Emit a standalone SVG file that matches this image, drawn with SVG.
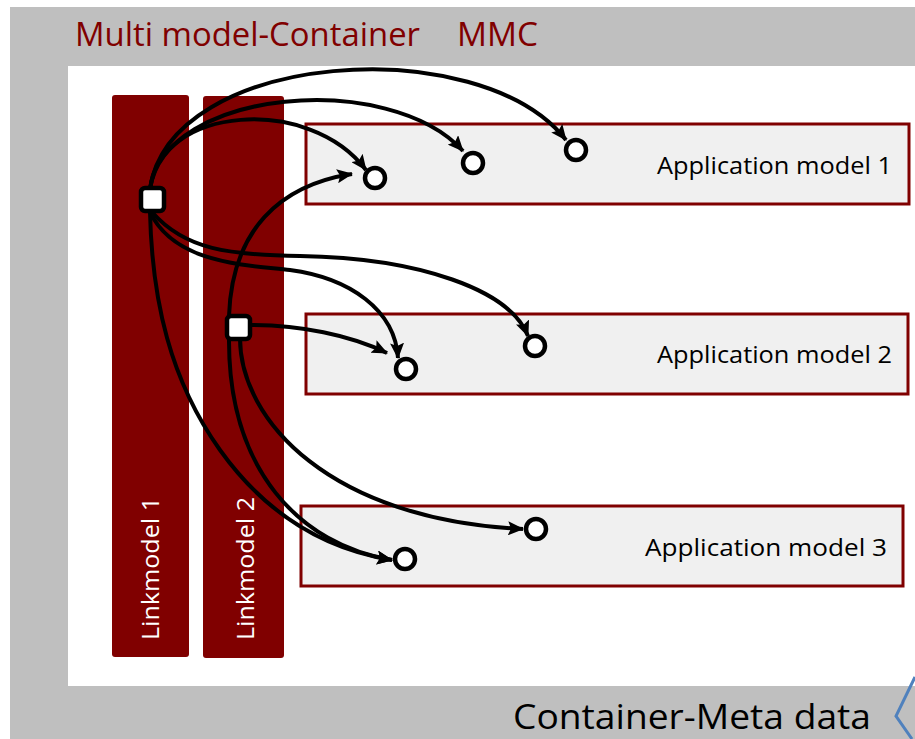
<svg xmlns="http://www.w3.org/2000/svg" width="915" height="739" viewBox="0 0 915 739">
<style>
.t{font-family:"Open Sans",Lato,"Liberation Sans",sans-serif}
.bar{fill:#800000}
.app{fill:#f0f0f0;stroke:#800000;stroke-width:3}
.apptxt{font-size:23px;fill:#000;text-anchor:end}
.lm{font-size:24px;fill:#fff}
.port{fill:#fff;stroke:#000;stroke-width:4.5}
.c{fill:none;stroke:#000;stroke-width:4;marker-end:url(#ah)}
</style>
<defs>
<marker id="ah" markerUnits="userSpaceOnUse" viewBox="0 0 16 14" refX="15" refY="7" markerWidth="16" markerHeight="14" orient="auto">
<path d="M0,0 L16,7 L0,14 L3,7 z" fill="#000"/>
</marker>
</defs>
<g id="background">
<rect x="10" y="7" width="905" height="732" fill="#bfbfbf"/>
<rect x="68" y="66" width="847" height="620" fill="#fff"/>
<text class="t" x="75" y="46" font-size="32" fill="#800000" textLength="345" lengthAdjust="spacingAndGlyphs">Multi model-Container</text>
<text class="t" x="457" y="46" font-size="32" fill="#800000" textLength="81" lengthAdjust="spacingAndGlyphs">MMC</text>
<text class="t" x="513" y="729" font-size="34" fill="#000" textLength="358" lengthAdjust="spacingAndGlyphs">Container-Meta data</text>
<polyline points="915,677 896,716 912,739" fill="none" stroke="#4f81bd" stroke-width="3"/>
</g>
<g id="linkmodel1">
<rect class="bar" x="112" y="95" width="77" height="562" rx="3"/>
<text class="t lm" transform="translate(159,640) rotate(-90)" textLength="143" lengthAdjust="spacingAndGlyphs">Linkmodel 1</text>
</g>
<g id="linkmodel2">
<rect class="bar" x="203" y="96" width="81" height="562" rx="3"/>
<text class="t lm" transform="translate(254,640) rotate(-90)" textLength="143" lengthAdjust="spacingAndGlyphs">Linkmodel 2</text>
</g>
<g id="app1">
<rect class="app" x="306" y="124" width="603" height="80"/>
<text class="t apptxt" x="892" y="174" textLength="235" lengthAdjust="spacingAndGlyphs">Application model 1</text>
</g>
<g id="app2">
<rect class="app" x="306" y="314" width="602" height="80"/>
<text class="t apptxt" x="892" y="363" textLength="235" lengthAdjust="spacingAndGlyphs">Application model 2</text>
</g>
<g id="app3">
<rect class="app" x="301" y="506" width="602" height="80"/>
<text class="t apptxt" x="887" y="556" textLength="242" lengthAdjust="spacingAndGlyphs">Application model  3</text>
</g>
<g id="connectors">
<path class="c" d="M150,189 C160,105 310,95 366,170"/>
<path class="c" d="M150,189 C165,88 390,70 463,151"/>
<path class="c" d="M150,189 C170,50 480,30 566,140"/>
<path class="c" d="M150,212 C175,265 250,265 290,270 C350,278 395,310 398,358"/>
<path class="c" d="M152,212 C185,250 230,255 300,256 C420,258 510,290 528,336"/>
<path class="c" d="M150,212 C152,300 170,380 220,450 C270,520 330,550 392,560"/>
<path class="c" d="M229,316 C232,230 280,185 352,174"/>
<path class="c" d="M250,325 C300,325 350,335 387,353"/>
<path class="c" d="M240,338 C240,420 330,520 523,529"/>
<path class="c" d="M229,338 C228,470 300,545 392,560"/>
</g>
<g id="ports">
<rect id="port-lm1" class="port" x="141" y="188" width="23" height="23" rx="4"/>
<rect id="port-lm2" class="port" x="227" y="316" width="23" height="23" rx="4"/>
<circle id="p1a" class="port" cx="375" cy="178" r="10"/>
<circle id="p1b" class="port" cx="473" cy="163" r="10"/>
<circle id="p1c" class="port" cx="576" cy="150" r="10"/>
<circle id="p2a" class="port" cx="406" cy="369" r="10"/>
<circle id="p2b" class="port" cx="535" cy="346" r="10"/>
<circle id="p3a" class="port" cx="405" cy="559" r="10"/>
<circle id="p3b" class="port" cx="536" cy="529" r="10"/>
</g>
</svg>
